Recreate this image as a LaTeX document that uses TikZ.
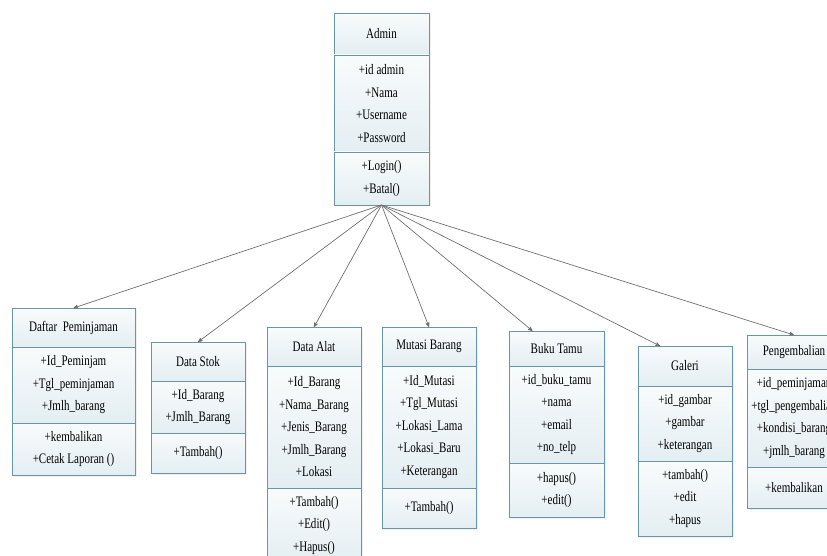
\documentclass[tikz,border=0pt]{standalone}
\usepackage{fontspec}
\setmainfont{Liberation Serif}[FakeStretch=0.76]
\usetikzlibrary{arrows}
\usetikzlibrary{positioning}
\usetikzlibrary{shadows}

\definecolor{umlline}{RGB}{104,150,165}
\definecolor{umltop}{RGB}{248,251,252}
\definecolor{umlbottom}{RGB}{228,238,242}
\definecolor{linkgray}{RGB}{112,112,112}

\begin{document}
\begin{tikzpicture}[x=1pt,y=-1pt,->,>=stealth']
		\tikzset{classpart/.style = {shape=rectangle, draw=umlline, line width=0.8pt, top color=umltop, bottom color=umlbottom,
				outer sep=0pt, inner xsep=2pt, align=flush center, text width=#1,
				font=\fontsize{14.5}{22.5}\selectfont,
				drop shadow={opacity=0.12, shadow xshift=1.5pt, shadow yshift=-1.5pt}}}
		\tikzset{link/.style = {draw=linkgray, line width=0.7pt}}
		\useasboundingbox (0,0) rectangle (827,556);
		
		% Admin
		\node[classpart=91pt, minimum height=42pt, anchor=north west] (admin) at (334,13) {Admin};
		\node[classpart=91pt, minimum height=97pt, below=0pt of admin] (admin-attr)
		{+id admin\\+Nama\\+Username\\+Password};
		\node[classpart=91pt, minimum height=53pt, below=0pt of admin-attr] (admin-ops)
		{+Login()\\+Batal()};
		
		% Daftar Peminjaman
		\node[classpart=119pt, minimum height=39pt, anchor=north west] (pinjam) at (12,308) {Daftar\ \ Peminjaman};
		\node[classpart=119pt, minimum height=76pt, below=0pt of pinjam] (pinjam-attr)
		{+Id\_Peminjam\\+Tgl\_peminjaman\\+Jmlh\_barang};
		\node[classpart=119pt, minimum height=52pt, below=0pt of pinjam-attr] (pinjam-ops)
		{+kembalikan\\+Cetak Laporan ()};
		
		% Data Stok
		\node[classpart=90pt, minimum height=39pt, anchor=north west] (stok) at (151,342) {Data Stok};
		\node[classpart=90pt, minimum height=52pt, below=0pt of stok] (stok-attr)
		{+Id\_Barang\\+Jmlh\_Barang};
		\node[classpart=90pt, minimum height=40pt, below=0pt of stok-attr] (stok-ops)
		{+Tambah()};
		
		% Data Alat
		\node[classpart=90pt, minimum height=39pt, anchor=north west] (alat) at (267,327) {Data Alat};
		\node[classpart=90pt, minimum height=122pt, below=0pt of alat] (alat-attr)
		{+Id\_Barang\\+Nama\_Barang\\+Jenis\_Barang\\+Jmlh\_Barang\\+Lokasi};
		\node[classpart=90pt, minimum height=75pt, below=0pt of alat-attr] (alat-ops)
		{+Tambah()\\+Edit()\\+Hapus()};
		
		% Mutasi Barang
		\node[classpart=90pt, minimum height=39pt, anchor=north west] (mutasi) at (382,327) {Mutasi Barang};
		\node[classpart=90pt, minimum height=122pt, below=0pt of mutasi] (mutasi-attr)
		{+Id\_Mutasi\\+Tgl\_Mutasi\\+Lokasi\_Lama\\+Lokasi\_Baru\\+Keterangan};
		\node[classpart=90pt, minimum height=40pt, below=0pt of mutasi-attr] (mutasi-ops)
		{+Tambah()};
		
		% Buku Tamu
		\node[classpart=91pt, minimum height=35pt, anchor=north west] (tamu) at (509,331) {Buku Tamu};
		\node[classpart=91pt, minimum height=97pt, below=0pt of tamu] (tamu-attr)
		{+id\_buku\_tamu\\+nama\\+email\\+no\_telp};
		\node[classpart=91pt, minimum height=54pt, below=0pt of tamu-attr] (tamu-ops)
		{+hapus()\\+edit()};
		
		% Galeri
		\node[classpart=90pt, minimum height=40pt, anchor=north west] (galeri) at (638,346) {Galeri};
		\node[classpart=90pt, minimum height=75pt, below=0pt of galeri] (galeri-attr)
		{+id\_gambar\\+gambar\\+keterangan};
		\node[classpart=90pt, minimum height=75pt, below=0pt of galeri-attr] (galeri-ops)
		{+tambah()\\+edit\\+hapus};
		
		% Pengembalian
		\node[classpart=90pt, minimum height=34pt, anchor=north west] (kembali) at (747,335) {Pengembalian};
		\node[classpart=90pt, minimum height=98pt, below=0pt of kembali] (kembali-attr)
		{+id\_peminjaman\\+tgl\_pengembalian\\+kondisi\_barang\\+jmlh\_barang};
		\node[classpart=90pt, minimum height=41pt, below=0pt of kembali-attr] (kembali-ops)
		{+kembalikan};
		
		% relasi
		\draw[link] (admin-ops.south) -- (pinjam.north);
		\draw[link] (admin-ops.south) -- (stok.north);
		\draw[link] (admin-ops.south) -- (alat.north);
		\draw[link] (admin-ops.south) -- (mutasi.north);
		\draw[link] (admin-ops.south) -- ([xshift=-24pt]tamu.north);
		\draw[link] (admin-ops.south) -- ([xshift=-25pt]galeri.north);
		\draw[link] (admin-ops.south) -- (kembali.north);
		
\end{tikzpicture}
\end{document}
